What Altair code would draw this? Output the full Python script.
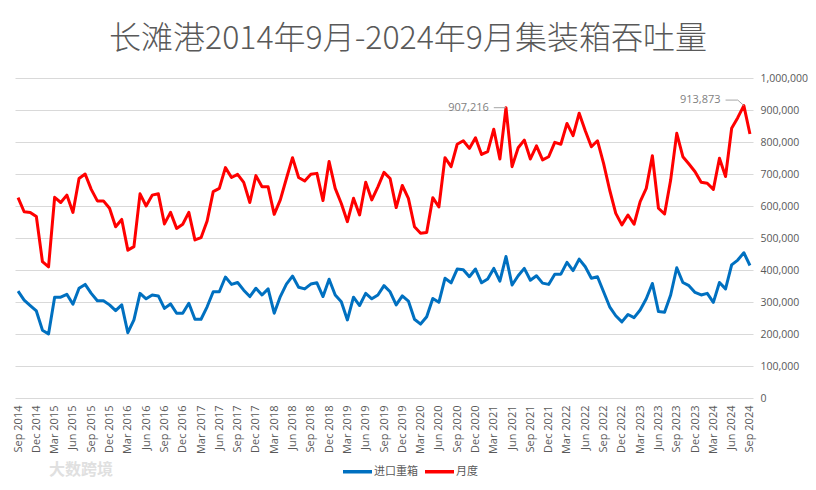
import altair as alt
import pandas as pd

# ---------------- data ----------------
month_names = ["Jan", "Feb", "Mar", "Apr", "May", "Jun",
               "Jul", "Aug", "Sep", "Oct", "Nov", "Dec"]
labels = [f"{month_names[(8 + k) % 12]} {2014 + (8 + k) // 12}" for k in range(121)]
tick_labels = labels[::3]

series_names = ["进口重箱", "月度"]

import_full = [
    334000, 306000, 289000, 272000, 212000, 200000, 315000, 315000, 324000, 293000,
    343000, 355000, 327000, 304000, 304000, 291000, 273000, 291000, 204000, 244000,
    327000, 310000, 322000, 319000, 280000, 294000, 265000, 265000, 296000, 246000,
    246000, 285000, 332000, 332000, 378000, 355000, 361000, 337000, 317000, 343000,
    322000, 341000, 265000, 317000, 356000, 381000, 346000, 341000, 356000, 360000,
    317000, 371000, 322000, 301000, 244000, 315000, 289000, 327000, 310000, 322000,
    351000, 332000, 291000, 319000, 303000, 246000, 231000, 254000, 311000, 299000,
    374000, 360000, 403000, 401000, 379000, 403000, 360000, 372000, 405000, 365000,
    442000, 353000, 382000, 405000, 368000, 382000, 359000, 355000, 387000, 387000,
    424000, 398000, 434000, 410000, 374000, 379000, 332000, 285000, 257000, 238000,
    261000, 251000, 275000, 310000, 358000, 270000, 268000, 322000, 407000, 361000,
    351000, 330000, 322000, 327000, 299000, 361000, 341000, 416000, 431000, 454000,
    414000,
]

monthly = [
    626000, 582000, 580000, 567000, 426000, 410000, 627000, 611000, 634000, 580000,
    686000, 700000, 652000, 616000, 616000, 593000, 535000, 558000, 462000, 473000,
    638000, 600000, 634000, 638000, 544000, 580000, 530000, 543000, 580000, 494000,
    501000, 553000, 645000, 655000, 720000, 689000, 699000, 674000, 611000, 695000,
    660000, 660000, 574000, 619000, 686000, 751000, 689000, 678000, 699000, 702000,
    617000, 739000, 655000, 608000, 551000, 624000, 572000, 674000, 619000, 660000,
    705000, 686000, 595000, 664000, 624000, 535000, 515000, 517000, 626000, 597000,
    751000, 723000, 793000, 804000, 780000, 813000, 761000, 770000, 840000, 747000,
    907216, 723000, 782000, 806000, 747000, 788000, 744000, 754000, 799000, 793000,
    858000, 820000, 890000, 835000, 785000, 804000, 733000, 650000, 577000, 541000,
    572000, 543000, 614000, 655000, 757000, 593000, 575000, 681000, 827000, 754000,
    731000, 707000, 674000, 671000, 652000, 749000, 692000, 843000, 876000, 913873,
    825000,
]

# annotation texts and anchors
ann_text = ["907,216", "913,873"]
ann_label = [labels[78], labels[116]]
ann_value = [907216, 931000]

# leader lines: (group, label, value, order)
leader_group = [0, 0, 1, 1, 1]
leader_label = [labels[78], labels[80], labels[116], labels[118], labels[119]]
leader_value = [907216, 907216, 931000, 931000, 913873]

watermark = "大数跨境"

# ---------------- frames ----------------
df = pd.DataFrame({
    "label": labels * 2,
    "series": [series_names[0]] * 121 + [series_names[1]] * 121,
    "value": import_full + monthly,
    "idx": list(range(121)) * 2,
})
ann_df = pd.DataFrame({"label": ann_label, "value": ann_value, "text": ann_text})
lead_df = pd.DataFrame({"g": leader_group, "label": leader_label,
                        "value": leader_value, "o": list(range(len(leader_group)))})
wm_df = pd.DataFrame({"text": [watermark]})

GRAY = "#595959"
NUM_FONT = "Open Sans"
CJK_FONT = "Noto Sans CJK SC"

x_axis = alt.Axis(values=tick_labels, labelAngle=-90, title=None, ticks=False,
                  tickSize=0, domain=False, grid=False, labelFont=NUM_FONT,
                  labelFontSize=11, labelColor=GRAY, labelPadding=7)
y_axis = alt.Axis(orient="right", values=list(range(0, 1000001, 100000)),
                  format=",d", title=None, ticks=False, tickSize=0, domain=False,
                  gridColor="#d9d9d9", gridWidth=1, labelFont=NUM_FONT,
                  labelFontSize=10.5, labelColor=GRAY, labelPadding=7)


def xe():
    return alt.X("label:O", sort=labels,
                 scale=alt.Scale(type="point", padding=0.5), axis=x_axis)


def ye():
    return alt.Y("value:Q", scale=alt.Scale(domain=[0, 1000000], nice=False),
                 axis=y_axis)


lines = alt.Chart(df).mark_line(strokeWidth=3, strokeJoin="round").encode(
    x=xe(),
    y=ye(),
    color=alt.Color(
        "series:N",
        scale=alt.Scale(domain=series_names, range=["#0070C0", "#FF0000"]),
        legend=alt.Legend(
            title=None, orient="none", direction="horizontal",
            legendX=326, legendY=377, symbolType="stroke", symbolSize=840,
            symbolStrokeWidth=3.5, labelFont=CJK_FONT, labelFontSize=11,
            labelColor=GRAY, labelOffset=0, columnPadding=0,
            labelLimit=200,
        ),
    ),
    order="idx:Q",
)

leaders = alt.Chart(lead_df).mark_line(strokeWidth=1, color="#a6a6a6").encode(
    x=xe(),
    y=ye(),
    detail="g:N",
    order="o:Q",
)

texts = alt.Chart(ann_df).mark_text(
    align="right", baseline="middle", dx=-5, fontSize=11, font=NUM_FONT,
    color="#7f7f7f",
).encode(
    x=xe(),
    y=ye(),
    text="text:N",
)

wm = alt.Chart(wm_df).mark_text(
    align="left", baseline="middle", fontSize=16, font=CJK_FONT,
    color="#e0e0e0", fontWeight="bold",
).encode(
    x=alt.value(34),
    y=alt.value(392),
    text="text:N",
)

chart = alt.layer(lines, leaders, texts, wm).properties(
    width=738,
    height=320,
    padding={"left": 7, "top": 70, "right": 55, "bottom": 84},
    autosize=alt.AutoSizeParams(type="none"),
    title=alt.TitleParams(
        "长滩港2014年9月-2024年9月集装箱吞吐量",
        font=CJK_FONT, fontSize=32, fontWeight=300, color=GRAY,
        anchor="middle", frame="group", dx=24, offset=-8,
        baseline="alphabetic",
    ),
).configure(background="white").configure_view(stroke=None)

chart.save("out.html", embed_options={"renderer": "svg", "actions": False})
